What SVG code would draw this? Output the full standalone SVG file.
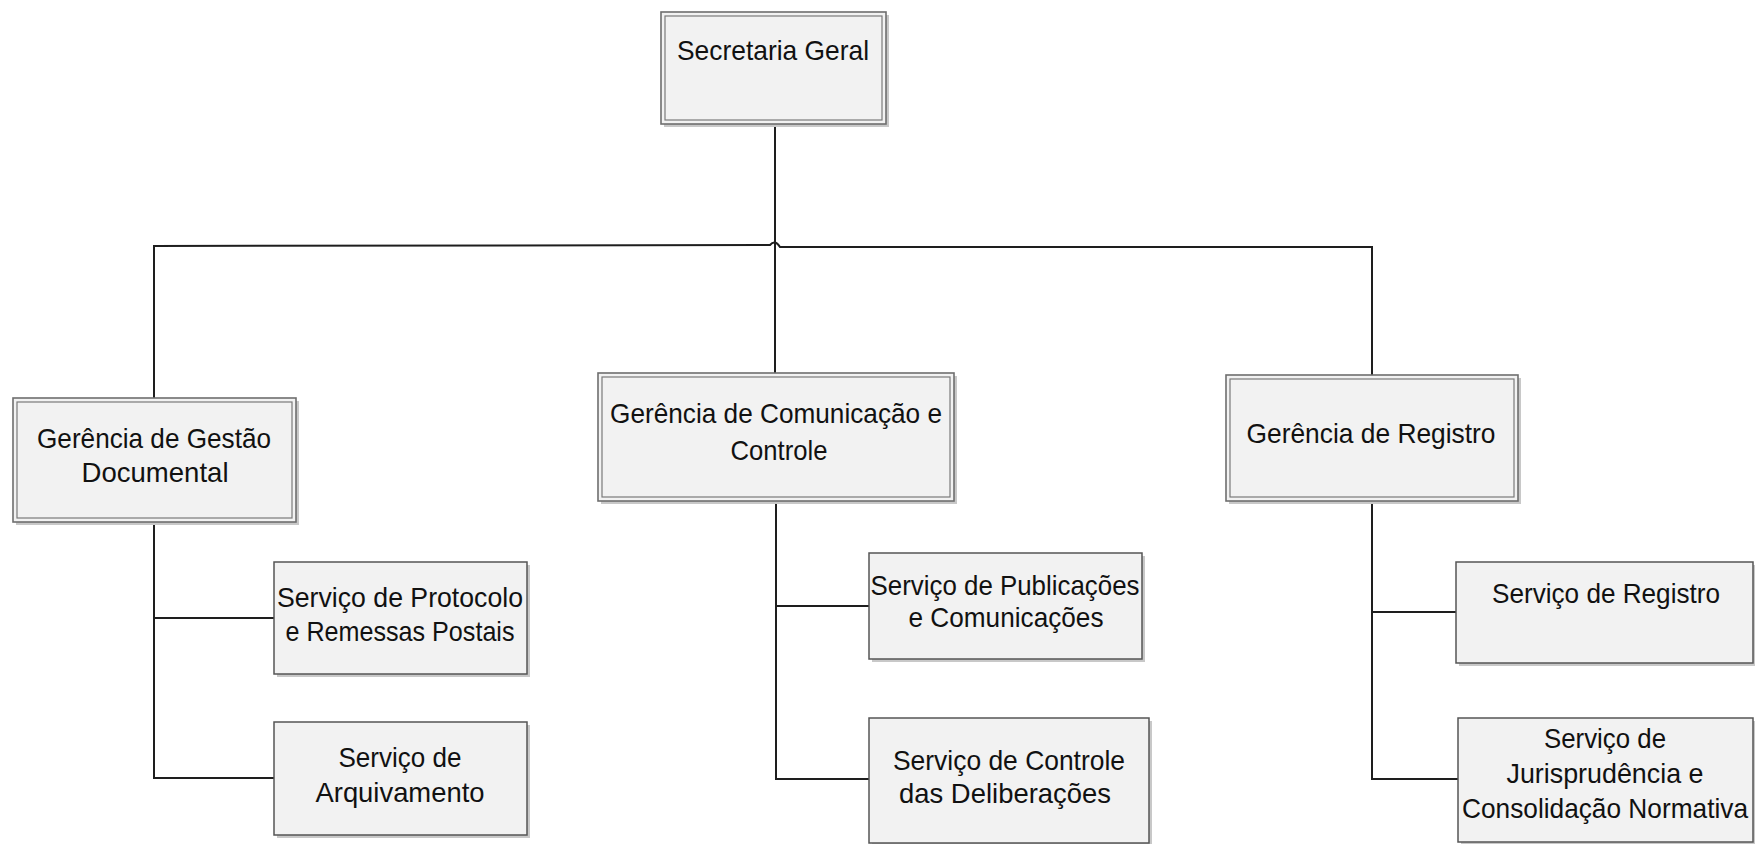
<svg xmlns="http://www.w3.org/2000/svg" width="1755" height="844" viewBox="0 0 1755 844">
<style>
.shadow{fill:#c8c8c8;}
.outer{fill:#f2f2f2;stroke:#6e6e6e;stroke-width:1.6;}
.inner{fill:#f2f2f2;stroke:#7a7a7a;stroke-width:1.2;}
.svc{fill:#f2f2f2;stroke:#555;stroke-width:1.5;}
.conn{fill:none;stroke:#1e1e1e;stroke-width:2;}
text{font-family:"Liberation Sans",Arial,sans-serif;font-size:28px;fill:#111;text-anchor:middle;}
</style>
<rect width="1755" height="844" fill="#ffffff"/>
<g id="connectors">
<path class="conn" d="M775,124 V373"/>
<path class="conn" d="M154,398 V246 L770,245 Q775,239 780,247 L1372,247 V375"/>
<path class="conn" d="M154,522 V778 H274 M154,618 H274"/>
<path class="conn" d="M776,501 V779 H869 M776,606 H869"/>
<path class="conn" d="M1372,501 V779 H1458 M1372,612 H1456"/>
</g>
<g id="secretaria-geral">
<rect class="shadow" x="664" y="15" width="225" height="112"/>
<rect class="outer" x="661" y="12" width="225" height="112"/>
<rect class="inner" x="665" y="16" width="217" height="104"/>
<text x="773" y="60" textLength="192" lengthAdjust="spacingAndGlyphs">Secretaria Geral</text>
</g>
<g id="gerencia-gestao">
<rect class="shadow" x="16" y="401" width="283" height="124"/>
<rect class="outer" x="13" y="398" width="283" height="124"/>
<rect class="inner" x="17" y="402" width="275" height="116"/>
<text x="154" y="448" textLength="234" lengthAdjust="spacingAndGlyphs">Gerência de Gestão</text>
<text x="155" y="482" textLength="147" lengthAdjust="spacingAndGlyphs">Documental</text>
</g>
<g id="gerencia-comunicacao">
<rect class="shadow" x="601" y="376" width="356" height="128"/>
<rect class="outer" x="598" y="373" width="356" height="128"/>
<rect class="inner" x="602" y="377" width="348" height="120"/>
<text x="776" y="423" textLength="332" lengthAdjust="spacingAndGlyphs">Gerência de Comunicação e</text>
<text x="779" y="460" textLength="97" lengthAdjust="spacingAndGlyphs">Controle</text>
</g>
<g id="gerencia-registro">
<rect class="shadow" x="1229" y="378" width="292" height="126"/>
<rect class="outer" x="1226" y="375" width="292" height="126"/>
<rect class="inner" x="1230" y="379" width="284" height="118"/>
<text x="1371" y="443" textLength="249" lengthAdjust="spacingAndGlyphs">Gerência de Registro</text>
</g>
<g id="servico-protocolo">
<rect class="shadow" x="277" y="565" width="253" height="112"/>
<rect class="svc" x="274" y="562" width="253" height="112"/>
<text x="400" y="607" textLength="246" lengthAdjust="spacingAndGlyphs">Serviço de Protocolo</text>
<text x="400" y="641" textLength="229" lengthAdjust="spacingAndGlyphs">e Remessas Postais</text>
</g>
<g id="servico-arquivamento">
<rect class="shadow" x="277" y="725" width="253" height="113"/>
<rect class="svc" x="274" y="722" width="253" height="113"/>
<text x="400" y="767" textLength="123" lengthAdjust="spacingAndGlyphs">Serviço de</text>
<text x="400" y="802" textLength="169" lengthAdjust="spacingAndGlyphs">Arquivamento</text>
</g>
<g id="servico-publicacoes">
<rect class="shadow" x="872" y="556" width="273" height="106"/>
<rect class="svc" x="869" y="553" width="273" height="106"/>
<text x="1005" y="595" textLength="269" lengthAdjust="spacingAndGlyphs">Serviço de Publicações</text>
<text x="1006" y="627" textLength="195" lengthAdjust="spacingAndGlyphs">e Comunicações</text>
</g>
<g id="servico-controle">
<rect class="shadow" x="872" y="721" width="280" height="125"/>
<rect class="svc" x="869" y="718" width="280" height="125"/>
<text x="1009" y="770" textLength="232" lengthAdjust="spacingAndGlyphs">Serviço de Controle</text>
<text x="1005" y="803" textLength="212" lengthAdjust="spacingAndGlyphs">das Deliberações</text>
</g>
<g id="servico-registro">
<rect class="shadow" x="1459" y="565" width="296" height="101"/>
<rect class="svc" x="1456" y="562" width="297" height="101"/>
<text x="1606" y="603" textLength="228" lengthAdjust="spacingAndGlyphs">Serviço de Registro</text>
</g>
<g id="servico-jurisprudencia">
<rect class="shadow" x="1461" y="721" width="294" height="123"/>
<rect class="svc" x="1458" y="718" width="295" height="124"/>
<text x="1605" y="748" textLength="122" lengthAdjust="spacingAndGlyphs">Serviço de</text>
<text x="1605" y="783" textLength="197" lengthAdjust="spacingAndGlyphs">Jurisprudência e</text>
<text x="1605" y="818" font-size="26" textLength="286" lengthAdjust="spacingAndGlyphs">Consolidação Normativa</text>
</g>
</svg>
